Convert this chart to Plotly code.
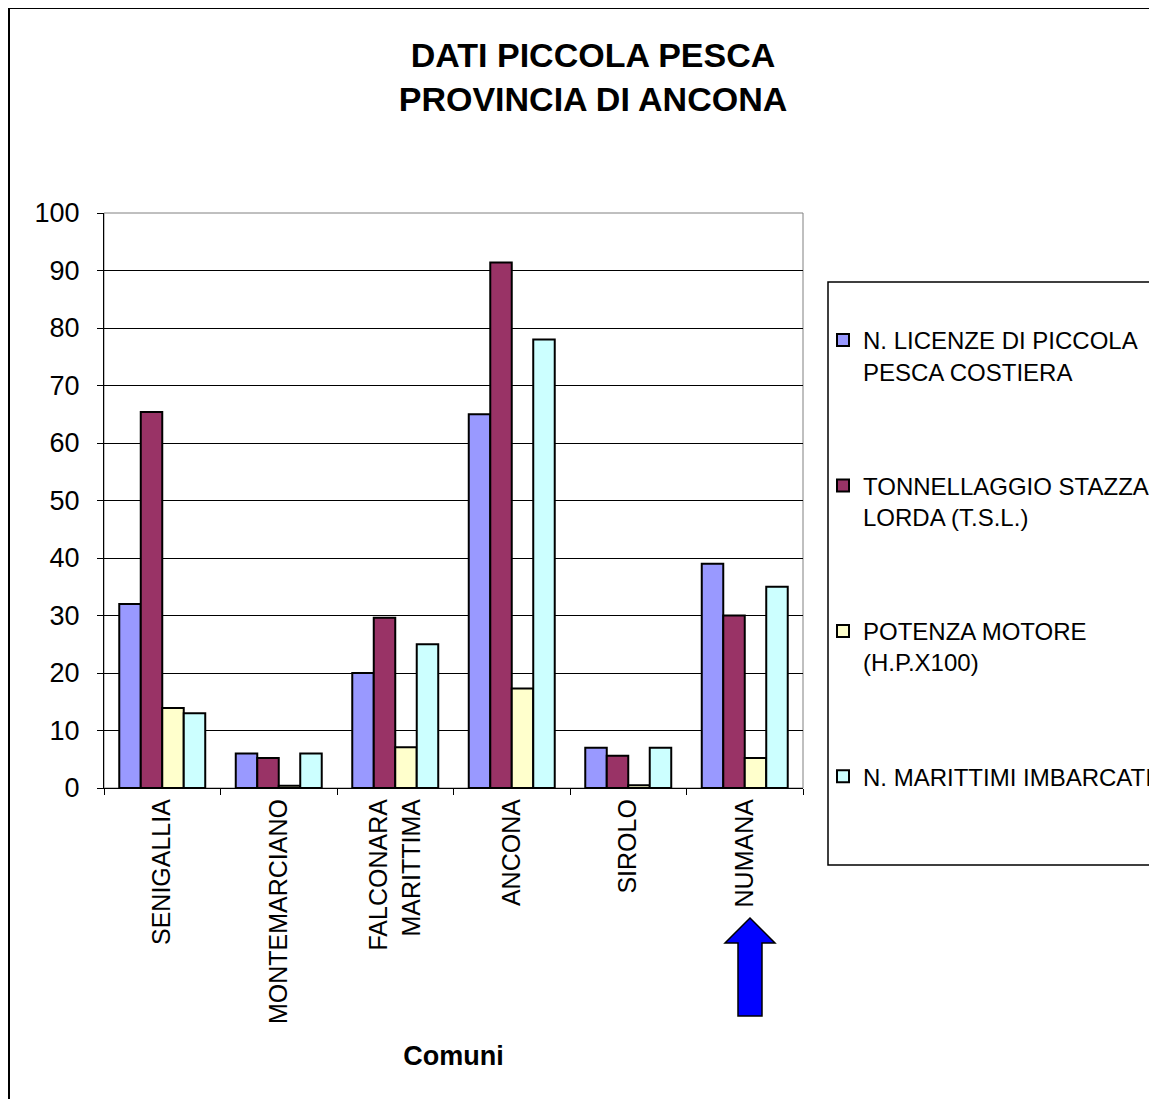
import plotly.graph_objects as go

# ---- data ----
comuni = ["SENIGALLIA", "MONTEMARCIANO", "FALCONARA<br>MARITTIMA", "ANCONA", "SIROLO", "NUMANA"]
series_names = [
    "N. LICENZE DI PICCOLA<br>PESCA COSTIERA",
    "TONNELLAGGIO STAZZA<br>LORDA (T.S.L.)",
    "POTENZA MOTORE<br>(H.P.X100)",
    "N. MARITTIMI IMBARCATI",
]
licenze = [32, 6, 20, 65, 7, 39]
tonnellaggio = [65.4, 5.2, 29.6, 91.4, 5.6, 30.0]
potenza = [13.9, 0.4, 7.1, 17.3, 0.5, 5.2]
marittimi = [13, 6, 25, 78, 7, 35]
y_ticks = [0, 10, 20, 30, 40, 50, 60, 70, 80, 90, 100]

colors = ["#9999FF", "#993366", "#FFFFCC", "#CCFFFF"]
values = [licenze, tonnellaggio, potenza, marittimi]

FONT = "Liberation Sans, Arial, sans-serif"

# page offset of the figure (browser body margin)
OFF = 8
W_FIG, H_FIG = 1157, 1099
# plot-area pixel geometry in page coords (for decorations only)
L, R, T, B = 104, 803, 213, 788
def px(x):
    return (x - L) / (R - L)
def py(y):
    return (B - y) / (B - T)

fig = go.Figure()
for name, vals, col in zip(series_names, values, colors):
    fig.add_trace(go.Bar(
        x=comuni, y=vals, name=name, legendgroup=name,
        marker=dict(color=col, line=dict(color="black", width=2)),
    ))

shapes = [
    # plot area border (gray)
    dict(type="rect", xref="paper", yref="paper", x0=0, x1=1, y0=0, y1=1,
         line=dict(color="#808080", width=1), layer="below"),
    # outer chart border
    dict(type="rect", xref="paper", yref="paper", x0=px(9), x1=px(1400), y0=py(1300), y1=py(8),
         line=dict(color="black", width=2)),
    # legend box
    dict(type="rect", xref="paper", yref="paper", x0=px(828), x1=px(1300), y0=py(865), y1=py(282),
         line=dict(color="black", width=1.5)),
]
# blue arrow pointing at NUMANA
arrow_pts = [(750, 918), (775, 943), (762, 943), (762, 1016), (738, 1016), (738, 943), (725, 943)]
path = "M " + " L ".join(f"{px(x):.5f},{py(y):.5f}" for x, y in arrow_pts) + " Z"
shapes.append(dict(type="path", xref="paper", yref="paper", path=path,
                   fillcolor="#0000FF", line=dict(color="black", width=1.5)))

fig.update_layout(
    width=W_FIG, height=H_FIG,
    margin=dict(l=L - OFF, r=W_FIG - (R - OFF), t=T - OFF, b=H_FIG - (B - OFF), autoexpand=False),
    paper_bgcolor="white", plot_bgcolor="white",
    font=dict(family=FONT, color="black"),
    barmode="group", bargap=0.262, bargroupgap=0,
    title=dict(text="<b>DATI PICCOLA PESCA<br>PROVINCIA DI ANCONA</b>",
               font=dict(size=34, family=FONT, color="black"),
               x=(593 - OFF) / W_FIG, xanchor="center", xref="container",
               y=1 - 59 / H_FIG, yanchor="top", yref="container"),
    legend=dict(x=px(823), xanchor="left", y=py(318), yanchor="top",
                font=dict(size=24, family=FONT, color="black"),
                bgcolor="rgba(0,0,0,0)", borderwidth=0,
                tracegroupgap=80, valign="top", traceorder="grouped"),
    shapes=shapes,
    showlegend=True,
)
fig.update_xaxes(
    type="category", showline=True, linecolor="black", linewidth=1.2,
    ticks="outside", tickson="boundaries", ticklen=6, tickcolor="black",
    tickangle=-90, tickfont=dict(size=25, family=FONT, color="black"),
    showgrid=False,
    title=dict(text="<b>Comuni</b>", font=dict(size=27, family=FONT, color="black"), standoff=23),
)
fig.update_yaxes(
    range=[0, 100], tickvals=y_ticks, showline=True, linecolor="black", linewidth=1.2,
    ticks="outside", ticklen=6, tickcolor="black",
    tickfont=dict(size=27, family=FONT, color="black"),
    showgrid=True, gridcolor="black", gridwidth=1, zeroline=False,
    ticklabelstandoff=12,
)

fig.write_html("out.html")
